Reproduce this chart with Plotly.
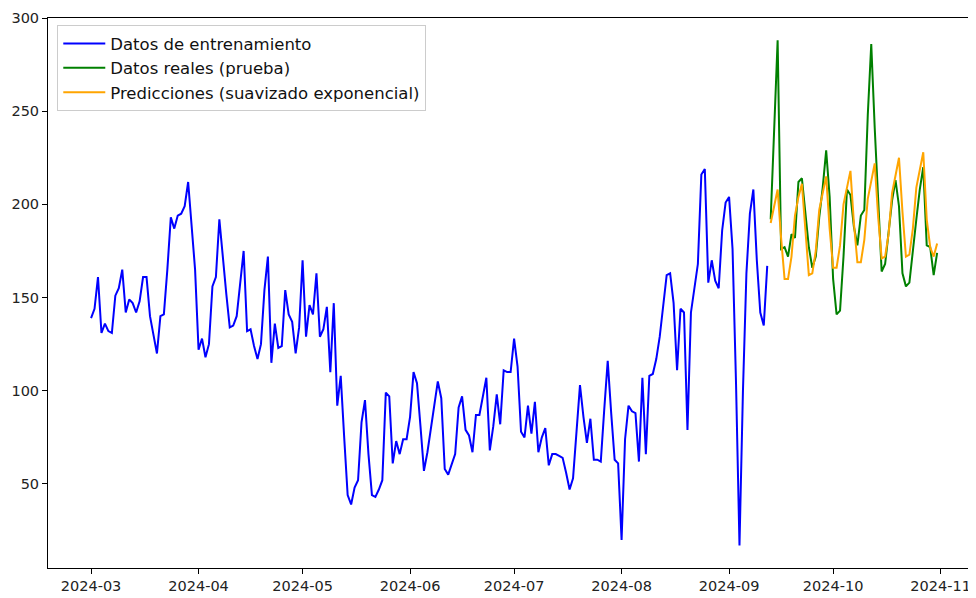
import pandas as pd
import plotly.graph_objects as go

# ─────────────────────────────────────────────
# DATOS
# ─────────────────────────────────────────────

train_start = "2024-03-01"
test_start = "2024-09-13"

train_values = [
    # marzo
    139, 144, 161, 131, 136, 132, 131, 151, 155, 165, 142, 149, 147, 142, 148, 161,
    161, 140, 130, 120, 140, 141, 165, 193, 187, 194, 195, 199, 212, 190, 165,
    # abril
    122, 128, 118, 125, 156, 161, 192, 170, 152, 134, 135, 140, 158, 175, 132, 133,
    124, 117, 125, 154, 172, 115, 136, 123, 124, 154, 141, 137, 120, 134,
    # mayo
    170, 129, 146, 141, 163, 129, 133, 145, 110, 147, 92, 108, 75, 44, 39, 48,
    52, 83, 95, 66, 44, 43, 47, 52, 99, 97, 61, 73, 66, 74, 74,
    # junio
    86, 110, 104, 81, 57, 67, 80, 92, 105, 96, 58, 55, 61, 66, 91, 97,
    79, 76, 67, 87, 87, 97, 107, 68, 81, 98, 82, 111, 110, 110,
    # julio
    128, 113, 78, 75, 92, 77, 94, 67, 75, 80, 60, 66, 66, 65, 64, 56,
    47, 53, 77, 103, 86, 72, 85, 63, 63, 62, 90, 116, 88, 63, 61,
    # agosto
    20, 74, 92, 89, 88, 62, 107, 66, 108, 109, 117, 129, 145, 162, 163, 147,
    111, 144, 142, 79, 142, 154, 168, 216, 219, 158, 170, 159, 155, 186, 201,
    # septiembre (1-12)
    204, 176, 104, 17, 100, 163, 195, 208, 170, 142, 135, 167,
]

test_values = [
    192, 245, 288, 176, 177, 172, 184, 182, 212, 214, 194, 177, 166, 172, 193, 209,
    229, 204, 160, 141, 143, 172, 208, 205, 188, 178, 194, 197, 248, 286, 241, 201,
    164, 168, 185, 202, 213, 199, 163, 156, 158, 177, 192, 208, 220, 178, 177, 162,
    174,
]

pred_values = [
    190, 200, 208, 182, 160, 160, 172, 194, 204, 211, 184, 162, 163, 175, 197, 207,
    215, 187, 166, 166, 178, 200, 210, 218, 190, 169, 169, 181, 203, 213, 222, 193,
    171, 172, 184, 206, 216, 225, 196, 172, 173, 187, 209, 219, 228, 192, 177, 172,
    179,
]

train_dates = pd.date_range(train_start, periods=len(train_values), freq="D")
test_dates = pd.date_range(test_start, periods=len(test_values), freq="D")

month_ticks = pd.date_range("2024-03-01", "2024-11-01", freq="MS")

FONT = "DejaVu Sans, Liberation Sans, sans-serif"

# ─────────────────────────────────────────────
# FIGURA
# ─────────────────────────────────────────────

fig = go.Figure()

fig.add_trace(go.Scatter(
    x=train_dates, y=train_values,
    mode="lines", name="Datos de entrenamiento",
    line=dict(color="blue", width=2),
    legendgroup="a",
))
fig.add_trace(go.Scatter(
    x=test_dates, y=test_values,
    mode="lines", name="Datos reales (prueba)",
    line=dict(color="green", width=2),
    legendgroup="b",
))
fig.add_trace(go.Scatter(
    x=test_dates, y=pred_values,
    mode="lines", name="Predicciones (suavizado exponencial)",
    line=dict(color="orange", width=2),
    legendgroup="c",
))

# la página añade 8 px de margen al cuerpo: se descuentan aquí
fig.update_layout(
    width=968, height=590,
    paper_bgcolor="white",
    plot_bgcolor="white",
    margin=dict(l=40, r=0, t=10, b=30, autoexpand=False),
    font=dict(family=FONT, size=14.5, color="#222"),
    showlegend=True,
    legend=dict(
        x=0.01, y=0.987,
        xanchor="left", yanchor="top",
        bgcolor="rgba(255,255,255,0.85)",
        bordercolor="#cccccc", borderwidth=1,
        font=dict(family=FONT, size=16.5, color="#111"),
        tracegroupgap=0,
        traceorder="grouped",
        itemwidth=42,
    ),
)

fig.update_xaxes(
    range=["2024-02-17 14:00", "2024-11-11 05:00"],
    tickvals=month_ticks,
    tickformat="%Y-%m",
    automargin=False,
    showgrid=False, zeroline=False,
    showline=True, linecolor="black", linewidth=1, mirror=True,
    ticks="outside", ticklen=5, tickcolor="black",
)
fig.update_yaxes(
    range=[4.9, 300],
    tickvals=[50, 100, 150, 200, 250, 300],
    automargin=False,
    showgrid=False, zeroline=False,
    showline=True, linecolor="black", linewidth=1,
    ticks="outside", ticklen=5, tickcolor="black",
)

fig.write_html("out.html")
